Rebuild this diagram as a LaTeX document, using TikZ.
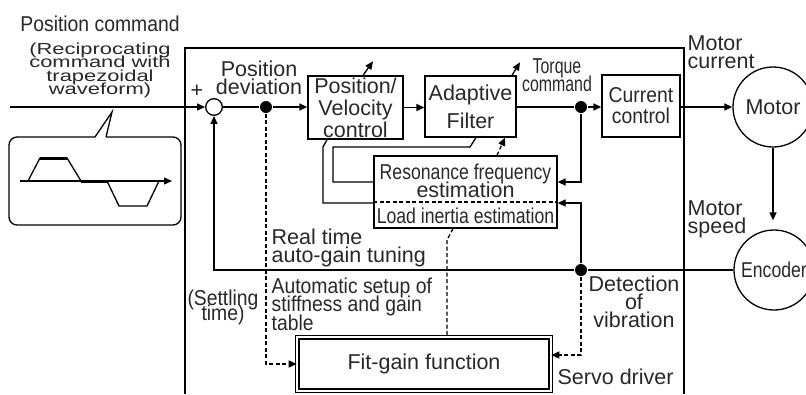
\documentclass[tikz,border=0pt]{standalone}
\usepackage{fontspec}
\setmainfont{Liberation Sans}
\newfontfamily\fntn{Liberation Sans}[FakeStretch=0.82]
\newfontfamily\fntm{Liberation Sans}[FakeStretch=0.9]
\newfontfamily\fntx{Liberation Sans}[FakeStretch=0.74]
\newfontfamily\fntw{Liberation Sans}[FakeStretch=1.37]
\newcommand\fsz[1]{\fontsize{21.5}{#1}\selectfont\lineskiplimit=-50pt\lineskip=0pt\relax}
\newcommand\fszw{\fontsize{16}{13.5}\selectfont\lineskiplimit=-50pt\lineskip=0pt\relax}
\usepackage{xcolor}
\definecolor{txtgray}{RGB}{40, 40, 40}
\usetikzlibrary{arrows.meta}

\begin{document}
\begin{tikzpicture}[x=1pt, y=-1pt, >={Triangle[length=8pt,width=7pt]}, line width=1.3pt,
    every node/.style={inner sep=0pt, text=txtgray},
    blk/.style={draw, line width=1.3pt, align=center},
    lbl/.style={align=center},
    dsig/.style={->, dash pattern=on 4pt off 2.5pt},
    dsh/.style={dash pattern=on 4pt off 2.5pt},
    dot/.style={circle, fill=black, minimum size=12pt}]

\useasboundingbox (0,0) rectangle (806,394);

% --- Callout with the trapezoidal command ---
\draw[rounded corners=8pt] (106,137) -- (181,137) -- (181,225) -- (9,225) -- (9,137) -- (95,137);
\draw (95,137) -- (112,112) -- (106,137);
\draw[->] (20,181) -- (172,181);
\draw (28,181) -- (40,158) -- (67,158) -- (81,181);
\draw (107,181) -- (119,206) -- (147,206) -- (159,181);
\draw[line width=3pt] (40,158) -- (67,158) (81,181) -- (107,181);

% --- Servo driver frame ---
\draw (185,394) |- (684,48) -- (684,394);

% --- Blocks ---
\node[circle, draw, fill=white, minimum size=16.6pt] (sum) at (214,107) {};
\node[dot] (d1) at (266,107) {};
\node[blk, minimum width=95pt, minimum height=63pt, font=\fsz{22}] (pvc) at (355.5,107.5) {Position/\\Velocity\\control};
\node[blk, minimum width=91pt, minimum height=61pt, font=\fsz{28}] (af) at (470.5,106.5) {Adaptive\\Filter};
\node[dot] (d2) at (581,107) {};
\node[blk, minimum width=78pt, minimum height=62pt, font=\fntm\fsz{21}] (cc) at (641,106) {Current\\control};
\node[circle, draw, minimum size=80pt, font=\fsz{20}] (motor) at (773,107) {Motor};
\node[circle, draw, minimum size=80pt, font=\fntn\fsz{20}] (enc) at (774,270) {Encoder};
\node[dot] (d3) at (581,270) {};
\node[blk, minimum width=183pt, minimum height=72pt] (est) at (465.5,192) {};
\node[lbl, anchor=north, font=\fsz{18}] (res) at (465.5,163) {{\fntn Resonance frequency}\\estimation};
\node[anchor=north, font=\fntn\fsz{18}] (load) at (465.5,207) {Load inertia estimation};
\node[blk, double, double distance=2.2pt, line width=1.2pt, minimum width=253.4pt, minimum height=53.4pt,
    font=\fsz{20}] (fg) at (424,364) {Fit-gain function};

% --- Labels ---
\node[anchor=base, font=\fntm\fsz{20}] (poscmd) at (100,31) {Position command};
\node[lbl, anchor=north, font=\fntw\fszw] (recip) at (100,42) {(Reciprocating\\command with\\trapezoidal\\waveform)};
\node[anchor=base, font=\fsz{20}] (plus) at (197,97) {+};
\node[lbl, anchor=north, font=\fsz{18}] (posdev) at (259,60) {Position\\deviation};
\node[lbl, anchor=north, font=\fntx\fsz{18}] (tq) at (557,58) {Torque\\command};
\node[anchor=north west, align=left, font=\fsz{18}] (mcur) at (687,35) {Motor\\current};
\node[anchor=north west, align=left, font=\fsz{18}] (mspd) at (687,200) {Motor\\speed};
\node[anchor=north west, align=left, font=\fsz{18}] (rtlbl) at (271,228) {Real time\\auto-gain tuning};
\node[anchor=north west, align=left, font=\fntm\fsz{18.5}] (autolbl) at (271,277) {Automatic setup of\\stiffness and gain\\table};
\node[lbl, anchor=north, font=\fntm\fsz{15}] (settle) at (223,289) {(Settling\\time)};
\node[lbl, anchor=north, font=\fsz{18}] (detlbl) at (634,275) {Detection\\of\\vibration};
\node[anchor=north west, font=\fsz{20}] (srv) at (557,368) {Servo driver};

% --- Signal lines ---
\coordinate (in) at (10,107);
\draw[->] (in) -- (sum.west);
\draw (sum.east) -- (d1);
\draw[->] (d1) -- (pvc.west |- d1);
\draw[->] (pvc.east) -- (af.west |- pvc.east);
\draw (af.east |- d2) -- (d2);
\draw[->] (d2) -- (cc.west |- d2);
\draw[->] (cc.east |- motor) -- (motor.west);
\draw[->, shorten >=9pt] (motor.south) -- (motor.south |- enc.north);
\draw (enc.west) -- (d3);
\draw[->] (d3) -- (d3 -| sum) -- (sum.south);
\draw[->] (d2) |- ([yshift=10pt]est.east);
\draw[->] (d3) |- ([yshift=-11pt]est.east);
\draw ([yshift=10pt]est.west) -| (333,147) -- (470,147) -- ([xshift=5.5pt]af.south);
\draw ([yshift=-11pt]est.west) -| (323,147) -- ([xshift=-28.5pt]pvc.south);
\draw[->] ([xshift=7.5pt]pvc.north) -- ++(10,-14);
\draw[->] ([xshift=41.5pt]af.north) -- ++(8,-13);

% --- Estimation / fit-gain (dashed) ---
\draw[dsh] ([yshift=-10pt]est.west) -- ([yshift=-10pt]est.east);
\draw[dsig] ([xshift=31.5pt]est.north) -- ([xshift=34.5pt]af.south);
\draw[dsh] ([xshift=-12.5pt]est.south) -- (447,240) -- ([xshift=23pt]fg.north);
\draw[dsig] (d1) |- (fg.west);
\draw[dsig] (d3) |- ([yshift=9pt]fg.east);

\end{tikzpicture}
\end{document}
